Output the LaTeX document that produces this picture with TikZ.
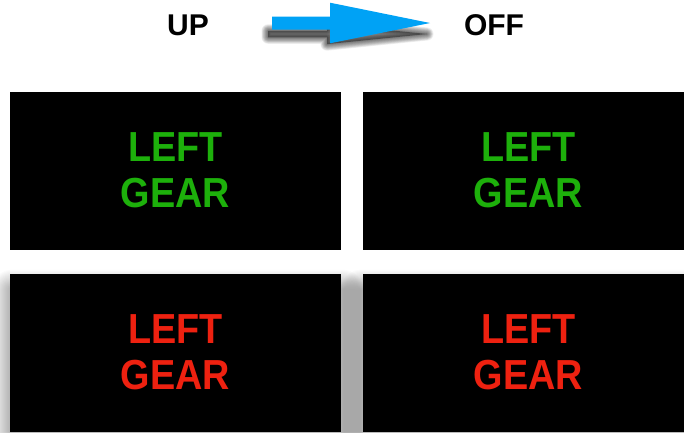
\documentclass[tikz,border=0pt]{standalone}
\usepackage{fontspec}
\setmainfont{Liberation Sans}
\usepackage{graphicx}
\usetikzlibrary{calc,backgrounds}
\definecolor{lgreen}{HTML}{1DB00B}
\definecolor{lred}{HTML}{EE2110}
\definecolor{lblue}{HTML}{00A2F5}
\tikzset{
  panel/.style={fill=black, draw=none, minimum width=331pt, minimum height=158pt, inner sep=0pt},
  gtext/.style={text=lgreen, align=center, font=\fontsize{42}{46}\selectfont\bfseries, inner sep=0pt},
  rtext/.style={text=lred, align=center, font=\fontsize{42}{46}\selectfont\bfseries, inner sep=0pt},
  hdr/.style={font=\fontsize{30}{32}\selectfont\bfseries, inner sep=0pt},
  shadelayer/.style={fill=black, opacity=0.014},
}
\begin{document}
\begin{tikzpicture}[x=1pt,y=-1pt]
\useasboundingbox (0,0) rectangle (684,432);
\clip (0,0) rectangle (684,432);
% header
\node[hdr] (up) at (188,25) {UP};
\node[hdr] (off) at (494,25) {OFF};
\coordinate (as) at (272,23);
\coordinate (at) at (430,23);
% arrow shadow (flattened, offset copy)
\foreach \k in {1,...,10}{
  \draw[black, opacity=0.065, line width=\k*1.3pt, line join=round]
  ($(as)+(-4,7.75)$) -- ($(at)+(-103,7.75)$) -- ($(at)+(-103,0.85)$)
  -- ($(at)+(-3,11)$) -- ($(at)+(-103,21.15)$) -- ($(at)+(-103,14.25)$) -- ($(as)+(-4,14.25)$) -- cycle;
}
\fill[black, opacity=0.4]
  ($(as)+(-4,7.75)$) -- ($(at)+(-103,7.75)$) -- ($(at)+(-103,0.85)$)
  -- ($(at)+(-3,11)$) -- ($(at)+(-103,21.15)$) -- ($(at)+(-103,14.25)$) -- ($(as)+(-4,14.25)$) -- cycle;
% arrow
\fill[lblue]
  ($(as)+(0,-6.5)$) -- ($(at)+(-100,-6.5)$) -- ($(at)+(-100,-20.3)$)
  -- (at) -- ($(at)+(-100,20.3)$) -- ($(at)+(-100,6.5)$) -- ($(as)+(0,6.5)$) -- cycle;
% panels
\node[panel] (tl) at (175.5,171) {};
\node[panel] (tr) at (528.5,171) {};
\node[panel] (bl) at (175.5,353) {};
\node[panel] (br) at (528.5,353) {};
\begin{scope}[on background layer]
\fill[white] (0,0) rectangle (684,432);
\foreach \k in {1,...,20}{
  \fill[shadelayer, rounded corners=\k pt] ($(bl.north west)+(2-\k,16-\k)$) rectangle ($(bl.south east)+(2+\k,16+\k)$);
  \fill[shadelayer, rounded corners=\k pt] ($(br.north west)+(-2-\k,16-\k)$) rectangle ($(br.south east)+(-2+\k,16+\k)$);
}
\end{scope}
\node[gtext] (tlt) at ([yshift=1pt]tl.center) {\scalebox{0.9}[1]{LEFT}\\\scalebox{0.9}[1]{GEAR}};
\node[gtext] (trt) at ([yshift=1pt]tr.center) {\scalebox{0.9}[1]{LEFT}\\\scalebox{0.9}[1]{GEAR}};
\node[rtext] (blt) at ([yshift=1pt]bl.center) {\scalebox{0.9}[1]{LEFT}\\\scalebox{0.9}[1]{GEAR}};
\node[rtext] (brt) at ([yshift=1pt]br.center) {\scalebox{0.9}[1]{LEFT}\\\scalebox{0.9}[1]{GEAR}};
\end{tikzpicture}
\end{document}
